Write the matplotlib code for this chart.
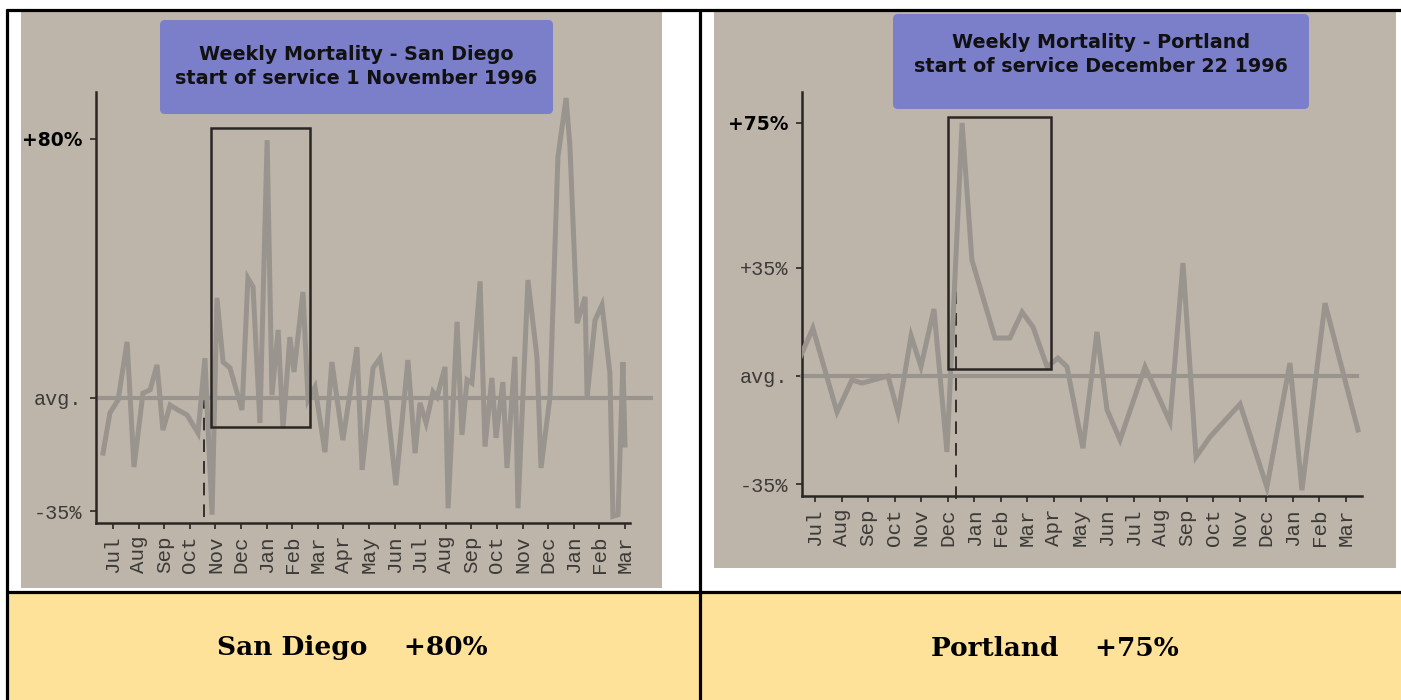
import matplotlib
matplotlib.use('Agg')
import matplotlib.pyplot as plt
from matplotlib.patches import Rectangle, FancyBboxPatch

W, H = 1401, 700

months = ['Jul', 'Aug', 'Sep', 'Oct', 'Nov', 'Dec', 'Jan', 'Feb', 'Mar', 'Apr', 'May',
          'Jun', 'Jul', 'Aug', 'Sep', 'Oct', 'Nov', 'Dec', 'Jan', 'Feb', 'Mar']

# San Diego: x in months from first July, y = % above/below weekly average
sd_x = [-0.39, -0.12, 0.20, 0.55, 0.82, 1.17, 1.45, 1.72, 1.95, 2.23, 2.54, 2.89, 3.32,
        3.59, 3.87, 4.06, 4.30, 4.57, 5.04, 5.27, 5.47, 5.74, 6.02, 6.21, 6.45, 6.64,
        6.91, 7.07, 7.42, 7.62, 7.89, 8.28, 8.55, 8.98, 9.53, 9.73, 10.16, 10.43, 10.70,
        11.05, 11.52, 11.80, 11.99, 12.23, 12.50, 12.66, 12.97, 13.09, 13.44, 13.63,
        13.83, 14.02, 14.34, 14.53, 14.80, 14.96, 15.23, 15.39, 15.70, 15.82, 16.21,
        16.56, 16.72, 17.07, 17.38, 17.70, 17.85, 18.13, 18.44, 18.52, 18.83, 19.10,
        19.41, 19.53, 19.73, 19.92, 20.00]
sd_y = [-17, -4.6, -0.6, 17.3, -21.3, 1.5, 2.5, 10.2, -9.9, -2.2, -3.7, -5.2, -10.8,
        12.3, -36, 30.9, 11.1, 9.3, -3.7, 37, 34.3, -7.7, 79.6, 0.9, 21, -9.3,
        18.8, 8.0, 32.7, -0.6, 3.4, -16.7, 11.1, -13, 15.7, -22.2, 9.3, 12.3, -1.5,
        -26.9, 11.7, -17, -1.5, -7.7, 1.9, 0.3, 9.6, -34, 23.5, -11.4,
        5.6, 4.6, 36, -15, 6.2, -12.3, 4.9, -21.6, 12.7, -34, 36.4,
        12.7, -21.6, 0.3, 74.4, 92.6, 77.5, 23.1, 31.2, 0.3, 24, 28.7,
        7.7, -36.5, -36, 11.1, -14.5]

# Portland
pt_x = [-0.56, -0.08, 0.83, 1.39, 1.77, 2.75, 3.13, 3.62, 3.99, 4.48, 4.97, 5.54, 5.91,
        6.78, 7.34, 7.80, 8.21, 8.74, 9.15, 9.49, 10.09, 10.62, 11.00, 11.49, 12.43,
        13.37, 13.86, 14.35, 14.88, 16.01, 17.02, 17.89, 18.34, 19.21, 20.45]
pt_y = [6.1, 15.5, -11.7, -1.3, -2.3, 0, -12, 13, 3, 21.7, -24.6, 82, 37.6,
        12.3, 12.3, 20.7, 15.9, 3, 5.8, 3, -23.4, 14.3, -11, -20.7, 3,
        -14.9, 36.6, -26.2, -19.7, -9.1, -36, 4.2, -37, 23.6, -17.5]

sd_ticks = [80, 0, -35]
sd_ticklabels = ['+80%', 'avg.', '-35%']
pt_ticks = [82, 35, 0, -35]
pt_ticklabels = ['+75%', '+35%', 'avg.', '-35%']

PHOTO = '#BDB5A9'
LINE = '#99948E'
INK = '#3c3a38'
TITLEBOX = '#7B7EC8'
YELLOW = '#FFE29A'


def px_rect(x0, y0, x1, y1):
    return [x0 / W, 1 - y1 / H, (x1 - x0) / W, (y1 - y0) / H]


fig = plt.figure(figsize=(W / 100, H / 100), dpi=100)
fig.patch.set_facecolor('white')

# page layer (pixel coords) for the table cells and photo backgrounds
page = fig.add_axes([0, 0, 1, 1], zorder=0)
page.set_xlim(0, W)
page.set_ylim(H, 0)
page.axis('off')
page.add_patch(Rectangle((21, 10), 641, 578, color=PHOTO, lw=0))
page.add_patch(Rectangle((714, 10), 682, 558, color=PHOTO, lw=0))
page.add_patch(Rectangle((7, 592), W, 120, color=YELLOW, lw=0))

top = fig.add_axes([0, 0, 1, 1], zorder=5)
top.set_xlim(0, W)
top.set_ylim(H, 0)
top.axis('off')
for xs, ys in [((6, W), (9.5, 9.5)), ((7, 7), (9, H)), ((700, 700), (9, H)), ((6, W), (592, 592))]:
    top.plot(xs, ys, color='black', lw=2.3, solid_capstyle='butt')

# title boxes
title_font = dict(family='DejaVu Sans', weight='bold', size=13.8, color='#111111')
titles = [((160, 20, 553, 114), (54, 79), ['Weekly Mortality - San Diego',
                                           'start of service 1 November 1996']),
          ((893, 14, 1309, 109), (42, 67), ['Weekly Mortality - Portland',
                                            'start of service December 22 1996'])]
for (x0, y0, x1, y1), (ty0, ty1), lines in titles:
    top.add_patch(FancyBboxPatch((x0, y0), x1 - x0, y1 - y0,
                                 boxstyle='round,pad=0,rounding_size=5',
                                 color=TITLEBOX, lw=0))
    cx = (x0 + x1) / 2
    top.text(cx, ty0, lines[0], ha='center', va='center', **title_font)
    top.text(cx, ty1, lines[1], ha='center', va='center', **title_font)

foot_font = dict(family='DejaVu Serif', weight='bold', size=19, color='black')
top.text(352, 648, 'San Diego    +80%', ha='center', va='center', **foot_font)
top.text(1055, 648, 'Portland    +75%', ha='center', va='center', **foot_font)


def draw_chart(rect, xlim, ylim, xs, ys, ticks, ticklabels, box, dash, xaxis_end, avg_span):
    ax = fig.add_axes(px_rect(*rect), zorder=2)
    ax.patch.set_visible(False)
    ax.set_xlim(xlim)
    ax.set_ylim(ylim)
    ax.spines['top'].set_visible(False)
    ax.spines['right'].set_visible(False)
    for s in ['left', 'bottom']:
        ax.spines[s].set_color('#2a2624')
        ax.spines[s].set_linewidth(1.8)
    ax.spines['bottom'].set_bounds(xlim[0], xaxis_end)

    ax.plot(avg_span, [0, 0], color=LINE, lw=3.0, clip_on=False, zorder=2)
    ax.plot(xs, ys, color=LINE, lw=3.6, solid_joinstyle='miter', zorder=3)

    bx0, bx1, by0, by1 = box
    ax.add_patch(Rectangle((bx0, by0), bx1 - bx0, by1 - by0, fill=False,
                           ec='#2a2624', lw=1.8, zorder=4))
    ax.plot([dash[0], dash[0]], [dash[1], dash[2]], color='#2a2624', lw=1.3,
            ls=(0, (7, 5)), clip_on=False, zorder=1)

    ax.set_xticks(range(len(months)))
    ax.set_xticklabels(months, rotation=90, family='Liberation Mono', size=15, color=INK)
    ax.tick_params(axis='x', direction='out', length=4, width=1.2, color='#2a2624', pad=5)
    ax.set_yticks(ticks)
    ax.set_yticklabels(ticklabels)
    ax.tick_params(axis='y', direction='out', length=4, width=1.2, color='#2a2624', pad=6)
    for lbl in ax.get_yticklabels():
        if lbl.get_text() in ('+80%', '+75%'):
            lbl.set_fontfamily('DejaVu Sans')
            lbl.set_fontweight('bold')
            lbl.set_fontsize(13.5)
            lbl.set_color('black')
        else:
            lbl.set_fontfamily('Liberation Mono')
            lbl.set_fontsize(14.5)
            lbl.set_color(INK)
    return ax


draw_chart((96, 92, 655, 523), ((96 - 113) / 25.6, (655 - 113) / 25.6),
           ((398 - 523) / 3.24, (398 - 92) / 3.24),
           sd_x, sd_y, sd_ticks, sd_ticklabels,
           (3.83, 7.70, -9.0, 83.3), (3.55, -36.7, 3.4), 20.2, (-0.5, 21.0))

draw_chart((802, 92, 1365, 496), ((802 - 815) / 26.55, (1365 - 815) / 26.55),
           ((376 - 496) / 3.086, (376 - 92) / 3.086),
           pt_x, pt_y, pt_ticks, pt_ticklabels,
           (5.01, 8.89, 2.3, 83.9), (5.31, -40.0, 37.0), 20.6, (-0.49, 20.41))

fig.savefig('out.png', dpi=100)
